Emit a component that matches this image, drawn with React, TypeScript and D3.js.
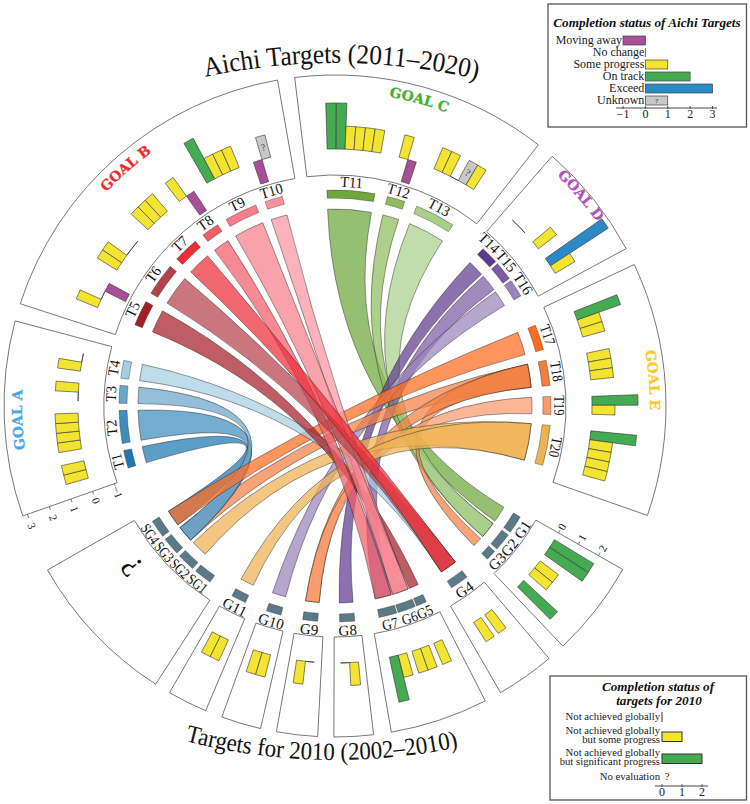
import React from 'react';
import * as d3 from 'd3';

type Status = number | '?' | null;

// status of each indicator, by target: -1 moving away, 0 no change, 1 some progress, 2 on track, 3 exceed, ? unknown
const goalATargets = ['T1', 'T2', 'T3', 'T4'];
const goalAValues: Status[][] = [[1, 1], [1, 1, 1, 1], [0, 1], [1, 0]];
const goalBTargets = ['T5', 'T6', 'T7', 'T8', 'T9', 'T10'];
const goalBValues: Status[][] = [[1, 0, -1], [1, 1, 0, 0], [1, 1, 1], [1, -1], [2, 1, 1, 1], [-1, '?']];
const goalCTargets = ['T11', 'T12', 'T13'];
const goalCValues: Status[][] = [[2, 2, 1, 1, 1, 1], [1, -1], [1, 1, 0, '?', 1]];
const goalDTargets = ['T14', 'T15', 'T16'];
const goalDValues: Status[][] = [[0, 0], [1], [3, 1]];
const goalETargets = ['T17', 'T18', 'T19', 'T20'];
const goalEValues: Status[][] = [[2, 1, 1], [1, 1, 1], [2, 1], [2, 1, 1, 1, 1]];

// 2010 targets, clockwise from G1
const g13Targets = ['G1', 'G2', 'G3'];
const g13Values: Status[][] = [[2, 2], [1, 1], [2]];
const g4Targets = ['G4'];
const g4Values: Status[][] = [[1, 1]];
const g57Targets = ['G5', 'G6', 'G7'];
const g57Values: Status[][] = [[1], [1, 1], [1, 2]];
const g8Targets = ['G8'];
const g8Values: Status[][] = [[1, 0]];
const g9Targets = ['G9'];
const g9Values: Status[][] = [[0, 1]];
const g10Targets = ['G10'];
const g10Values: Status[][] = [[1, 1]];
const g11Targets = ['G11'];
const g11Values: Status[][] = [[1, 1]];
const sgTargets = ['SG1', 'SG2', 'SG3', 'SG4'];
const sgValues: Status[][] = [[null, null], [null, null], [null, null], [null, null]];

// which Aichi target follows which 2010 target, in drawing order
const linkFrom = ['T11', 'T12', 'T13', 'T14', 'T15', 'T16', 'T18', 'T1', 'T2', 'T3', 'T17', 'T18', 'T18', 'T19', 'T20', 'T20', 'T4', 'T5', 'T8', 'T10', 'T9', 'T6', 'T7'];
const linkTo = ['G1', 'G2', 'G2', 'G8', 'G7', 'G10', 'SG3', 'SG4', 'SG3', 'SG3', 'SG4', 'G3', 'G9', 'G9', 'SG2', 'G11', 'G4', 'G5', 'G7', 'G6', 'G6', 'G4', 'G4'];

const aichiLegendLabels = ['Moving away', 'No change', 'Some progress', 'On track', 'Exceed', 'Unknown'];
const aichiLegendValues = [-1, 0, 1, 2, 3, 1];
const aichiLegendTicks = [-1, 0, 1, 2, 3];
const targetLegendValues = [0, 1, 2];
const targetLegendTicks = [0, 1, 2];
const radialTicks = [-1, 0, 1, 2, 3];

const blockColors: Record<string, string> = {
	T1: '#1f78b4', T2: '#3f8dbd', T3: '#6ba5cc', T4: '#a6cee3',
	T5: '#a51e27', T6: '#b5414a', T7: '#ee2c38', T8: '#f25c68', T9: '#f77e8a', T10: '#fb94a0',
	T11: '#6ea73a', T12: '#8ebd5c', T13: '#a8d08a',
	T14: '#5e3a8f', T15: '#7b5ba6', T16: '#9a84bb',
	T17: '#ff6c1e', T18: '#f27f42', T19: '#fc9a6c', T20: '#efb252',
};
const statusColor = (v: Status) => {
	if (v === '?') return '#c8c8c8';
	if (v === -1) return '#a84f98';
	if (v === 1) return '#f2e430';
	if (v === 2) return '#45ab52';
	if (v === 3) return '#2b8ac6';
	return 'none';
};

const cx = 335;
const cy = 406;
const SLOT = 2;
const INK = '#333';
const SERIF = '"Liberation Serif", serif';

const rad = (deg: number) => (deg * Math.PI) / 180;
const polar = (r: number, deg: number): [number, number] => [r * Math.sin(rad(deg)), -r * Math.cos(rad(deg))];
const arc = d3.arc<any>();
const ring = (r0: number, r1: number, a0: number, a1: number) =>
	arc({ innerRadius: r0, outerRadius: r1, startAngle: rad(a0), endAngle: rad(a1) }) as string;

const arcLine = (r: number, a0: number, a1: number, ox = 0, oy = 0) => {
	const [x0, y0] = polar(r, a0);
	const [x1, y1] = polar(r, a1);
	return `M${x0 + ox},${y0 + oy}A${r},${r} 0 0 ${a1 > a0 ? 1 : 0} ${x1 + ox},${y1 + oy}`;
};

const rScale = d3.scaleLinear().domain([-1, 3]).range([234, 326]);

interface Sector {
	start: number;
	end: number;
	gap: number;
	step?: number;
	targets: string[];
	values: Status[][];
	goal?: string;
	goalColor?: string;
	goalAngle?: number;
	goalRadius?: number;
}
const sectors: Sector[] = [
	{ start: 250.6, end: 284.9, gap: 2.7, targets: goalATargets, values: goalAValues, goal: 'GOAL A', goalColor: '#4aa8e0', goalAngle: 267.5, goalRadius: 313 },
	{ start: 288, end: 350, gap: 3.4, targets: goalBTargets, values: goalBValues, goal: 'GOAL B', goalColor: '#ef2b2b', goalAngle: 318.6, goalRadius: 313 },
	{ start: 353, end: 397.9, gap: 4.2, targets: goalCTargets, values: goalCValues, goal: 'GOAL C', goalColor: '#44b035', goalAngle: 375.4, goalRadius: 314 },
	{ start: 401, end: 421.6, gap: 2.65, targets: goalDTargets, values: goalDValues, goal: 'GOAL D', goalColor: '#b050b8', goalAngle: 409.4, goalRadius: 320 },
	{ start: 424.7, end: 469.3, gap: 3.7, targets: goalETargets, values: goalEValues, goal: 'GOAL E', goalColor: '#fdca26', goalAngle: 445.3, goalRadius: 315 },
	{ start: 119.6, end: 136.5, gap: 1.7, targets: g13Targets, values: g13Values },
	{ start: 139.7, end: 150, gap: 0, step: 3, targets: g4Targets, values: g4Values },
	{ start: 153, end: 170.2, gap: 1.2, targets: g57Targets, values: g57Values },
	{ start: 173.3, end: 180.2, gap: 0, targets: g8Targets, values: g8Values },
	{ start: 183, end: 190.2, gap: 0, targets: g9Targets, values: g9Values },
	{ start: 193, end: 200, gap: 0, targets: g10Targets, values: g10Values },
	{ start: 203, end: 210, gap: 0, targets: g11Targets, values: g11Values },
	{ start: 212.8, end: 240.3, gap: 1.85, targets: sgTargets, values: sgValues },
];

// labels that sit a little off their block
const labelNudge: Record<string, number> = { T14: -2.3, T15: -1.5 };

interface Block {
	name: string;
	mid: number;
	a0: number;
	a1: number;
}
const blocks: Record<string, Block> = {};
const bars: { value: Status; a0: number; a1: number }[] = [];
sectors.forEach((s) => {
	const step = s.step ?? SLOT;
	const spans = s.values.map((v) => step * v.length - (step - SLOT));
	const total = d3.sum(spans) + s.gap * (spans.length - 1);
	let at = (s.start + s.end) / 2 - total / 2;
	s.targets.forEach((name, i) => {
		const mid = at + spans[i] / 2;
		const span = name === 'T15' ? 4.2 : spans[i];
		const half = span / 2 + (name.startsWith('G') && s.gap === 0 ? 0 : 0.4);
		blocks[name] = { name, mid, a0: mid - half, a1: mid + half };
		s.values[i].forEach((value, j) => {
			if (value !== null) bars.push({ value, a0: at + j * step, a1: at + j * step + SLOT });
		});
		at += spans[i] + s.gap;
	});
});

const ribbon = d3.ribbon<any, any>();

const aichiX = d3.scaleLinear().domain([-1, 3]).range([623, 712.5]);
const aichiY = d3.scalePoint<string>().domain(aichiLegendLabels).range([40.5, 100.5]);
const targetX = d3.scaleLinear().domain([0, 2]).range([662, 702]);

// the picture squeezes the ring labels by different amounts around the circle
const labelSqueeze = (name: string, deg: number) => {
	if (name.startsWith('SG')) return 0.8;
	if (name === 'G5' || name === 'G6' || name === 'G7') return 0.88;
	if (name.startsWith('G')) return 1;
	return deg > 60 && deg < 110 ? 0.84 : 0.95;
};

const Axis: React.FC<{ ticks: number[]; x: any; y: number; x0: number; x1: number; size: number }> = ({ ticks, x, y, x0, x1, size }) => (
	<g>
		<line x1={x0} x2={x1} y1={y} y2={y} stroke={INK} strokeWidth={0.9} />
		{ticks.map((t) => (
			<g key={t}>
				<line x1={x(t)} x2={x(t)} y1={y - 2} y2={y + 1} stroke={INK} strokeWidth={0.8} />
				<text x={x(t)} y={y + 10} fontSize={size} textAnchor="middle">
					{t < 0 ? `\u2212${-t}` : t}
				</text>
			</g>
		))}
	</g>
);

const App: React.FC = () => (
	<svg
		width={750}
		height={804}
		viewBox="0 0 750 804"
		style={{ position: 'absolute', left: 0, top: 0, display: 'block', background: '#fff' }}
		fontFamily={SERIF}
	>
		<defs>
			<path id="topTitle" d={arcLine(620, -20, 21, 1, 277)} />
			<path id="bottomTitle" d={arcLine(600, 201.3, 161.3, 0, -246)} />
			{sectors.filter((s) => s.goal).map((s) => (
				<path key={s.goal} id={s.goal!.replace(' ', '')} d={arcLine(s.goalRadius!, s.goalAngle! - 40, s.goalAngle! + 40)} />
			))}
		</defs>
		<g transform={`translate(${cx},${cy})`}>
			{sectors.map((s) => (
				<path key={s.start} d={ring(231, 331, s.start, s.end)} fill="none" stroke="#555" strokeWidth={0.8} />
			))}

			{linkFrom.map((from, i) => {
				const a = blocks[from];
				const b = blocks[linkTo[i]];
				return (
					<path
						key={from + linkTo[i]}
						d={
							ribbon({
								source: { startAngle: rad(a.a0), endAngle: rad(a.a1), radius: 197 },
								target: { startAngle: rad(b.a0), endAngle: rad(b.a1), radius: 197 },
							}) as unknown as string
						}
						fill={blockColors[from]}
						fillOpacity={0.72}
						stroke="#222"
						strokeOpacity={0.75}
						strokeWidth={0.6}
					/>
				);
			})}

			{Object.values(blocks).map((b) => {
				const deg = b.mid % 360;
				const flip = deg > 110 && deg < 250;
				return (
					<g key={b.name}>
						<path d={ring(208, 216, b.a0, b.a1)} fill={blockColors[b.name] ?? '#5b7a88'} stroke={INK} strokeWidth={0.4} />
						<text
							transform={`rotate(${b.mid + (labelNudge[b.name] ?? 0)}) translate(0,-224.5)${flip ? ' rotate(180)' : ''} scale(${labelSqueeze(b.name, deg)},1)`}
							fontSize={15}
							textAnchor="middle"
							dy="0.35em"
							fill="#111"
						>
							{b.name}
						</text>
					</g>
				);
			})}

			{bars.map((b, i) => {
				const isUnknown = b.value === '?';
				const v = isUnknown ? 1 : (b.value as number);
				const r0 = rScale(Math.min(v, 0));
				const r1 = rScale(Math.max(v, 0));
				const mid = (b.a0 + b.a1) / 2;
				return (
					<g key={i}>
						<path d={ring(r0, r1, b.a0, b.a1)} fill={statusColor(b.value)} stroke={INK} strokeWidth={v === 0 ? 0.7 : 0.6} />
						{isUnknown && (
							<text transform={`rotate(${mid}) translate(0,${-(r0 + r1) / 2})`} fontSize={10} textAnchor="middle" dy="0.35em" fill="#444">
								?
							</text>
						)}
					</g>
				);
			})}

			{radialTicks.map((t) => {
				const [x0, y0] = polar(rScale(t), 250.6);
				const [x1, y1] = polar(rScale(t), 249.9);
				return (
					<g key={t}>
						<line x1={x0} y1={y0} x2={x1} y2={y1} stroke="#444" strokeWidth={0.7} />
						<text transform={`rotate(248.4) translate(0,${-rScale(t)}) rotate(180)`} fontSize={11} textAnchor="middle" dy="0.35em" fill="#222">
							{t < 0 ? `\u2212${-t}` : t}
						</text>
					</g>
				);
			})}
			{radialTicks.slice(1, 4).map((t) => {
				const [x0, y0] = polar(rScale(t), 119.6);
				const [x1, y1] = polar(rScale(t), 118.9);
				return (
					<g key={t}>
						<line x1={x0} y1={y0} x2={x1} y2={y1} stroke="#444" strokeWidth={0.7} />
						<text transform={`rotate(118) translate(0,${-rScale(t)}) rotate(180)`} fontSize={11} textAnchor="middle" dy="0.35em" fill="#222">
							{t}
						</text>
					</g>
				);
			})}

			{sectors.filter((s) => s.goal).map((s) => (
				<text key={s.goal} fontFamily='"DejaVu Serif", serif' fontWeight="bold" fontSize={13.8} fill={s.goalColor} stroke={s.goalColor} strokeWidth={0.3}>
					<textPath href={`#${s.goal!.replace(' ', '')}`} startOffset="50%" textAnchor="middle">
						{s.goal}
					</textPath>
				</text>
			))}

			<text transform="rotate(231.7) translate(0,-260)" fontSize={32} textAnchor="middle" dy="0.35em" fill="#111">
				?
			</text>
			<text fontSize={27.5} fill="#111">
				<textPath href="#topTitle" startOffset="50%" textAnchor="middle" textLength={274} lengthAdjust="spacingAndGlyphs">
					Aichi Targets (2011–2020)
				</textPath>
			</text>
			<text fontSize={25} fill="#111">
				<textPath href="#bottomTitle" startOffset="50%" textAnchor="middle" textLength={276} lengthAdjust="spacingAndGlyphs">
					Targets for 2010 (2002–2010)
				</textPath>
			</text>
		</g>

		{/* Aichi legend */}
		<g fill="#222">
			<rect x={548} y={4} width={198.5} height={123} fill="#fff" stroke="#555" strokeWidth={1.3} />
			<text x={647} y={27} fontSize={13.2} fontWeight="bold" fontStyle="italic" textAnchor="middle" fill="#111">
				Completion status of Aichi Targets
			</text>
			{aichiLegendLabels.map((label, i) => {
				const v = aichiLegendValues[i];
				const y = aichiY(label) as number;
				const x0 = aichiX(Math.min(v, 0));
				const x1 = aichiX(Math.max(v, 0));
				const isUnknown = label === 'Unknown';
				return (
					<g key={label}>
						<text x={v < 0 ? x0 - 1 : aichiX(0) - 1} y={y + 3.5} fontSize={12} textAnchor="end">
							{label}
						</text>
						{v === 0 ? (
							<line x1={x0} x2={x0} y1={y - 4.5} y2={y + 4.5} stroke="#444" strokeWidth={0.8} />
						) : (
							<rect
								x={x0}
								y={y - 4.5}
								width={x1 - x0}
								height={9}
								fill={isUnknown ? statusColor('?') : statusColor(v)}
								stroke="#444"
								strokeWidth={0.7}
							/>
						)}
						{isUnknown && (
							<text x={(x0 + x1) / 2} y={y + 2.5} fontSize={7} textAnchor="middle">
								?
							</text>
						)}
					</g>
				);
			})}
			<Axis ticks={aichiLegendTicks} x={aichiX} y={108} x0={616} x1={717} size={12} />
		</g>

		{/* 2010 legend */}
		<g fill="#222">
			<rect x={550} y={676} width={196.5} height={124} fill="#fff" stroke="#555" strokeWidth={1.3} />
			<text fontSize={13.2} fontWeight="bold" fontStyle="italic" textAnchor="middle" fill="#111">
				<tspan x={658} y={691}>Completion status of</tspan>
				<tspan x={659} y={705}>targets for 2010</tspan>
			</text>
			<g fontSize={10.7} textAnchor="end">
				<text x={660} y={720}>Not achieved globally</text>
				<text x={660} y={734}>Not achieved globally</text>
				<text x={660} y={742.5}>but some progress</text>
				<text x={660} y={756}>Not achieved globally</text>
				<text x={660} y={765}>but significant progress</text>
				<text x={660} y={780}>No evaluation</text>
			</g>
			<text x={667} y={780} fontSize={10.7} textAnchor="middle">
				?
			</text>
			{targetLegendValues.map((v, i) => {
				const y = [712, 732, 754][i];
				return v === 0 ? (
					<line key={v} x1={targetX(0)} x2={targetX(0)} y1={y} y2={y + 10} stroke="#333" strokeWidth={1} />
				) : (
					<rect key={v} x={targetX(0)} y={y} width={targetX(v) - targetX(0)} height={9.5} fill={statusColor(v)} stroke="#333" strokeWidth={1} />
				);
			})}
			<Axis ticks={targetLegendTicks} x={targetX} y={786} x0={655} x1={708} size={12} />
		</g>
	</svg>
);

export default App;
